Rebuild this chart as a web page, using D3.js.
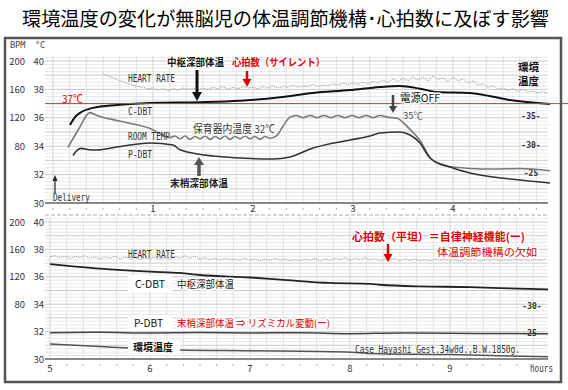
<!DOCTYPE html>
<html>
<head>
<meta charset="utf-8">
<script src="https://cdn.jsdelivr.net/npm/d3@7"></script>
<style>
  body { margin: 0; background: #fff; }
  svg text { font-family: "Noto Sans CJK JP", "Noto Sans", sans-serif; }
  svg text.mono { font-family: "DejaVu Sans Mono", monospace; }
</style>
</head>
<body>
<div class="chart-container"></div>
<script>
var width = 568,
    height = 390;

// ---- values ----
var bpmTicks = [200, 160, 120, 80];
var tempTicks = [40, 38, 36, 34, 32, 30];
var roomTicksTop = [35, 30, 25];
var roomTicksBottom = [30, 25];
var hourTicksTop = [1, 2, 3, 4];
var hourTicksBottom = [5, 6, 7, 8, 9];

// upper strip (0-5 h after delivery)
var hrStep = 0.05;
var hrTopStart = 0.5;
var hrTop = [183,179,177,173,171,168,166,164,163,161,
             162,159,161,158,161,159,162,160,162,159,
             162,160,163,161,164,160,163,161,164,162,
             163,161,164,162,165,162,164,163,166,163,
             165,164,167,164,166,165,168,166,169,167,
             169,167,170,168,171,169,173,170,175,171,
             176,172,178,173,177,172,179,174,176,171,
             177,172,175,169,172,166,168,163,165,160,
             162,158,161,157,160,156,158,155,157,154];
// [hour, degC]
var cdbtTop = [[0.17,35.5],[0.22,36.05],[0.27,36.35],[0.40,36.7],[0.64,36.9],[0.97,37.05],
               [1.47,37.1],[1.87,37.2],[2.27,37.45],[2.60,37.75],[2.97,37.95],[3.27,38.17],
               [3.47,38.24],[3.67,38.05],[3.84,37.82],[4.17,37.75],[4.57,37.25],[4.97,36.97]];
var pdbtTop = [[0.20,33.35],[0.24,33.7],[0.28,33.85],[0.36,33.75],[0.44,33.73],[0.64,33.94],
               [0.97,34.23],[1.20,34.08],[1.27,33.75],[1.60,33.31],[2.20,33.1],[2.37,33.24],
               [2.60,33.87],[2.97,34.44],[3.17,34.72],[3.27,34.93],[3.47,35.0],[3.57,34.79],
               [3.67,34.23],[3.77,33.17],[3.97,32.54],[4.17,32.11],[4.57,31.69],[4.97,31.41]];
// room (incubator) temperature, right-hand scale
var roomTop = [[0.15,29.5],[0.25,32.5],[0.37,35.6],[0.44,35.1],[0.64,34.2],[0.97,32.8],
               [1.17,31.2],[1.22,31.5],[1.27,31.0],[1.32,31.5],[1.37,30.9],[1.42,31.4],
               [1.47,31.0],[1.52,31.5],[1.57,30.9],[1.62,31.4],[1.67,31.0],[1.72,31.5],
               [1.77,30.9],[1.82,31.4],[1.87,31.0],[1.92,31.5],[1.97,31.0],[2.02,31.4],
               [2.07,30.9],[2.12,31.4],[2.17,31.1],[2.24,31.6],[2.30,33.2],[2.37,34.8],
               [2.43,35.1],[2.50,34.7],[2.57,35.1],[2.64,34.7],[2.71,35.1],[2.78,34.7],
               [2.85,35.1],[2.92,34.7],[2.99,35.1],[3.06,34.7],[3.13,35.1],[3.20,34.7],
               [3.27,35.1],[3.34,34.8],[3.44,34.6],[3.55,33.0],[3.67,30.7],[3.77,27.7],
               [3.90,26.3],[4.17,25.8],[4.40,25.7],[4.67,25.8],[4.97,25.4]];

// lower strip (5-10 h)
var hrBottomStart = 5.0;
var hrBottom = [149,151,148,150,147,150,148,151,147,149,
                146,149,147,150,146,149,147,148,145,148,
                146,149,145,148,146,150,147,151,147,150,
                146,148,145,147,144,147,145,146,144,147,
                144,146,143,146,144,147,144,146,143,145,
                143,146,144,147,143,146,144,147,145,148,
                144,147,145,148,144,147,143,146,144,147,
                143,146,144,146,143,145,143,146,144,146,
                143,145,143,146,144,146,143,145,144,146,
                143,145,144,146,144,145,143,145,144,145];
var cdbtBottom = [[5.0,36.93],[5.5,36.6],[6.0,36.38],[6.3,36.28],[6.5,36.13],[7.0,35.95],
                  [7.3,35.8],[7.8,35.55],[8.2,35.48],[8.3,35.42],[8.7,35.3],[9.2,35.25],
                  [9.6,35.15],[9.98,35.08]];
var pdbtBottom = [[5.0,31.92],[5.5,31.95],[6.0,31.9],[6.5,31.93],[7.0,31.9],[7.5,31.92],
                  [8.0,31.85],[8.5,31.9],[9.0,31.88],[9.5,31.86],[9.98,31.85]];
var roomBottom = [[5.0,22.96],[5.5,22.5],[5.8,22.2],[6.3,21.85],[7.0,21.7],[7.97,21.48],
                  [8.2,21.2],[9.0,21.0],[9.98,20.6]];

var svg = d3.select(".chart-container").append("svg")
    .attr("width", width)
    .attr("height", height);

svg.append("rect").attr("width", width).attr("height", height).attr("fill", "#fff");

// scales
var xTop = d3.scaleLinear().domain([0, 5]).range([53, 553]);
var tTop = d3.scaleLinear().domain([30, 40]).range([203, 61]);
var bTop = d3.scaleLinear().domain([80, 200]).range([tTop(34), tTop(40)]);
var rTop = d3.scaleLinear().domain([25, 35]).range([173, 116]);

var xBot = d3.scaleLinear().domain([5, 10]).range([50, 550]);
var tBot = d3.scaleLinear().domain([30, 40]).range([359, 222]);
var bBot = d3.scaleLinear().domain([80, 200]).range([tBot(34), tBot(40)]);
var rBot = d3.scaleLinear().domain([25, 30]).range([333, 306]);

var gridLeft = 45, gridRight = 548;

function txt(g, x, y, s, o) {
  o = o || {};
  var t = g.append("text").attr("x", x).attr("y", y).text(s)
      .style("font-size", (o.size || 10) + "px")
      .attr("fill", o.fill || "#222");
  if (o.bold) t.style("font-weight", "bold");
  if (o.mono) t.attr("class", "mono");
  if (o.anchor) t.attr("text-anchor", o.anchor);
  if (o.len) t.attr("textLength", o.len).attr("lengthAdjust", "spacingAndGlyphs");
  if (o.halo) t.attr("stroke", "#fff").attr("stroke-width", 3)
      .attr("paint-order", "stroke").attr("stroke-linejoin", "round");
  return t;
}

function arrow(g, x, yFrom, yTo, color, w, hw, hl) {
  var dir = yTo > yFrom ? 1 : -1;
  g.append("line").attr("x1", x).attr("x2", x)
    .attr("y1", yFrom).attr("y2", yTo - dir * hl)
    .attr("stroke", color).attr("stroke-width", w);
  g.append("path")
    .attr("d", "M" + (x - hw) + "," + (yTo - dir * hl) + "L" + (x + hw) + "," + (yTo - dir * hl) + "L" + x + "," + yTo + "Z")
    .attr("fill", color);
}

function grid(g, x, t, tMax) {
  var h0 = Math.ceil(x.invert(gridLeft) * 6), h1 = Math.floor(x.invert(gridRight) * 6);
  d3.range(30, tMax + 0.01, 0.25).forEach(function(v) {
    var major = Math.abs(v - Math.round(v)) < 0.01;
    g.append("line").attr("x1", gridLeft).attr("x2", gridRight)
      .attr("y1", t(v)).attr("y2", t(v))
      .attr("stroke", major ? "#c4c4c4" : "#e0e0e0").attr("stroke-width", major ? 0.9 : 0.7);
  });
  d3.range(h0, h1 + 1).forEach(function(k) {
    g.append("line").attr("x1", x(k / 6)).attr("x2", x(k / 6))
      .attr("y1", t(tMax)).attr("y2", t(30))
      .attr("stroke", k % 6 === 0 ? "#cbcbcb" : "#dadada").attr("stroke-width", 0.8);
    g.append("line").attr("x1", x(k / 6)).attr("x2", x(k / 6))
      .attr("y1", t(30) + 5).attr("y2", t(30) + 7)
      .attr("stroke", "#999").attr("stroke-width", 0.8);
  });
  g.append("line").attr("x1", gridLeft).attr("x2", gridRight)
    .attr("y1", t(30)).attr("y2", t(30))
    .attr("stroke", "#6a6a6a").attr("stroke-width", 1.4);
}

function drawSeries(g, data, x, y, color, w) {
  g.append("path")
    .datum(data)
    .attr("fill", "none")
    .attr("stroke", color)
    .attr("stroke-width", w)
    .attr("stroke-linejoin", "round")
    .attr("d", d3.line().curve(d3.curveMonotoneX)
      .x(function(d) { return x(d[0]); })
      .y(function(d) { return y(d[1]); }));
}

function drawHr(g, vals, start, x, b) {
  g.append("path")
    .datum(vals)
    .attr("fill", "none")
    .attr("stroke", "#9a9a9a")
    .attr("stroke-width", 0.9)
    .attr("stroke-dasharray", "1.4,0.9")
    .attr("d", d3.line()
      .x(function(d, i) { return x(start + i * hrStep); })
      .y(function(d) { return b(d); }));
}

function leftAxis(g, t, b) {
  bpmTicks.forEach(function(v) {
    txt(g, 25, b(v) + 3.5, v, { size: 9.5, fill: "#333", anchor: "end" });
  });
  tempTicks.forEach(function(v) {
    txt(g, 44, t(v) + 3.5, v, { size: 9.5, fill: "#333", anchor: "end" });
  });
}

// ---------- title ----------
txt(svg, 22, 26, "環境温度の変化が無脳児の体温調節機構･心拍数に及ぼす影響",
  { size: 19, fill: "#000", len: 527 });

// ---------- upper strip ----------
var topG = svg.append("g");
grid(topG, xTop, tTop, 40.35);
txt(topG, 10, 48, "BPM", { mono: true, size: 8.5, fill: "#444" });
txt(topG, 35, 48, "°C", { mono: true, size: 8.5, fill: "#444" });
leftAxis(topG, tTop, bTop);
hourTicksTop.forEach(function(h) {
  txt(topG, xTop(h), 212, h, { size: 9.5, fill: "#333", anchor: "middle" });
});
roomTicksTop.forEach(function(v, i) {
  txt(topG, 531, rTop(v) + 3, i === 2 ? "-" + v : "-" + v + "-",
    { mono: true, bold: true, size: 8, fill: "#333", anchor: "middle" });
});

drawHr(topG, hrTop, hrTopStart, xTop, bTop);
drawSeries(topG, roomTop, xTop, rTop, "#7a7a7a", 1.6);
drawSeries(topG, pdbtTop, xTop, tTop, "#333", 1.6);
drawSeries(topG, cdbtTop, xTop, tTop, "#111", 2);

// 37 C reference
topG.append("line").attr("x1", gridLeft).attr("x2", width)
  .attr("y1", tTop(37)).attr("y2", tTop(37))
  .attr("stroke", "#d33").attr("stroke-width", 1);
txt(topG, 62, tTop(37) - 1, "37℃", { size: 11, fill: "#e00000", len: 21 });

txt(topG, 128, 82, "HEART RATE", { mono: true, size: 10, fill: "#333", len: 47 });
txt(topG, 128, 115, "C-DBT", { mono: true, size: 10, fill: "#333", len: 24 });
txt(topG, 128, 140, "ROOM TEMP", { mono: true, size: 10, fill: "#333", len: 42 });
txt(topG, 128, 158, "P-DBT", { mono: true, size: 10, fill: "#333", len: 24 });
txt(topG, 53, 201, "Delivery", { mono: true, size: 10, fill: "#333", len: 37 });
arrow(topG, 55, 193, 175, "#222", 1.2, 2.5, 6);

txt(topG, 167, 66, "中枢深部体温", { size: 10.5, bold: true, fill: "#111", len: 57, halo: true });
arrow(topG, 197, 70, 101, "#111", 3, 5, 9);
txt(topG, 232, 66, "心拍数（サイレント）", { size: 10.5, bold: true, fill: "#e00000", len: 93, halo: true });
arrow(topG, 247, 71, 87, "#e00000", 2.5, 4.5, 8);
txt(topG, 193, 133, "保育器内温度 32℃", { size: 11, fill: "#333", len: 82, halo: true });
txt(topG, 170, 187, "末梢深部体温", { size: 10.5, bold: true, fill: "#222", len: 58, halo: true });
arrow(topG, 199, 176, 157, "#555", 3.5, 5, 8);
txt(topG, 400, 102, "電源OFF", { size: 11, fill: "#111", len: 40, halo: true });
arrow(topG, 393, 95, 113, "#444", 2.5, 4, 7);
txt(topG, 403, 119, "35℃", { size: 9.5, fill: "#555", len: 20 });
txt(topG, 518, 71, "環境", { size: 10.5, bold: true, fill: "#111", len: 21 });
txt(topG, 518, 85, "温度", { size: 10.5, bold: true, fill: "#111", len: 21 });

// separator between strips
svg.append("line").attr("x1", gridLeft).attr("x2", gridRight)
  .attr("y1", 215).attr("y2", 215)
  .attr("stroke", "#aaa").attr("stroke-width", 1).attr("stroke-dasharray", "4,2");

// ---------- lower strip ----------
var botG = svg.append("g");
grid(botG, xBot, tBot, 40.3);
leftAxis(botG, tBot, bBot);
hourTicksBottom.forEach(function(h) {
  txt(botG, xBot(h), 372, h, { size: 9.5, fill: "#333", anchor: "middle" });
});
txt(botG, 530, 372, "hours", { mono: true, size: 10, fill: "#333", len: 23 });
roomTicksBottom.forEach(function(v) {
  txt(botG, 532, rBot(v) + 3, "-" + v + "-",
    { mono: true, bold: true, size: 8, fill: "#333", anchor: "middle" });
});

drawHr(botG, hrBottom, hrBottomStart, xBot, bBot);
drawSeries(botG, roomBottom, xBot, rBot, "#555", 1.5);
drawSeries(botG, pdbtBottom, xBot, tBot, "#444", 1.5);
drawSeries(botG, cdbtBottom, xBot, tBot, "#222", 1.8);

txt(botG, 128, 258, "HEART RATE", { mono: true, size: 10, fill: "#333", len: 47 });
txt(botG, 355, 353, "Case Hayashi Gest.34w0d.,B.W.1850g.", { mono: true, size: 10, fill: "#333", len: 165 });

[[128, 276, 44, 16], [128, 315, 44, 16], [128, 339, 52, 16]].forEach(function(r) {
  botG.append("rect").attr("x", r[0]).attr("y", r[1]).attr("width", r[2]).attr("height", r[3]).attr("fill", "#fff");
});
txt(botG, 135, 288, "C-DBT", { size: 11, fill: "#111", len: 30 });
txt(botG, 177, 288, "中枢深部体温", { size: 10.5, fill: "#222", len: 57, halo: true });
txt(botG, 134, 327, "P-DBT", { size: 11, fill: "#111", len: 29 });
txt(botG, 177, 327, "末梢深部体温 ⇒ リズミカル変動(ー)", { size: 10, fill: "#dd0000", len: 153, halo: true });
txt(botG, 133, 351, "環境温度", { size: 10.5, bold: true, fill: "#111", len: 40 });

txt(botG, 352, 241, "心拍数（平坦）＝自律神経機能(ー)", { size: 11, bold: true, fill: "#dd0000", len: 173, halo: true });
txt(botG, 437, 256, "体温調節機構の欠如", { size: 10.5, fill: "#dd0000", len: 100, halo: true });
arrow(botG, 388, 244, 262, "#dd0000", 2.5, 4.5, 8);

// frame
svg.append("rect").attr("x", 5).attr("y", 38).attr("width", 556).attr("height", 344)
  .attr("fill", "none").attr("stroke", "#555").attr("stroke-width", 2.5);
</script>
</body>
</html>
